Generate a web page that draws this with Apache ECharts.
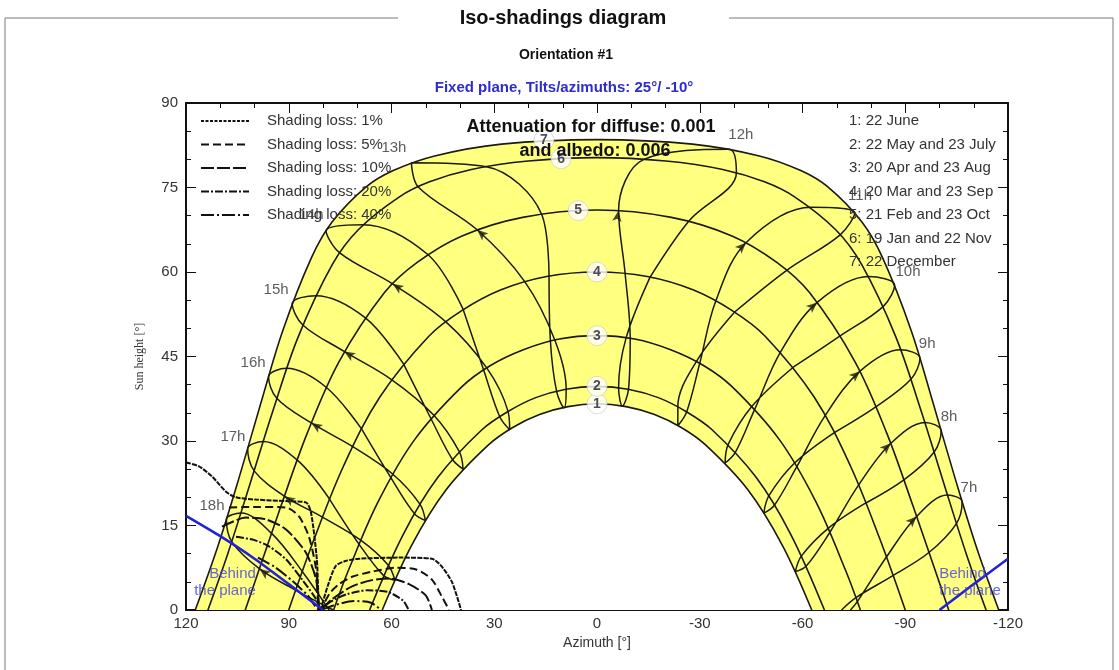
<!DOCTYPE html>
<html>
<head>
<meta charset="utf-8">
<script src="https://cdn.jsdelivr.net/npm/echarts@6/dist/echarts.min.js"></script>
<style>
  html, body { margin: 0; padding: 0; background: #ffffff; }
  #chart { width: 1119px; height: 670px; }
</style>
</head>
<body>
<div id="chart"></div>
<script>
// Axis ticks
const azimuthTicks = [120, 90, 60, 30, 0, -30, -60, -90, -120];
const heightTicks = [0, 15, 30, 45, 60, 75, 90];

// Sun paths for the seven reference dates: [azimuth, sun height]
const day1 = [[62.7,0],[54.2,11.4],[44.1,21.3],[31.7,29.3],[24.6,32.4],[16.8,34.7],[8.5,36.1],[0,36.6],[-8.5,36.1],[-16.8,34.7],[-24.6,32.4],[-31.7,29.3],[-44.1,21.3],[-54.2,11.4],[-62.7,0]];
const day2 = [[66.4,0],[56.6,13.4],[46.4,23.6],[33.6,32.0],[26.1,35.2],[17.9,37.7],[9.1,39.2],[0,39.7],[-9.1,39.2],[-17.9,37.7],[-26.1,35.2],[-33.6,32.0],[-46.4,23.6],[-56.6,13.4],[-66.4,0]];
const day3 = [[76.9,0],[72.6,7.0],[64.0,19.1],[53.3,30.2],[39.5,39.6],[31.1,43.4],[21.5,46.2],[11.0,48.1],[0,48.7],[-11.0,48.1],[-21.5,46.2],[-31.1,43.4],[-39.5,39.6],[-53.3,30.2],[-64.0,19.1],[-72.6,7.0],[-76.9,0]];
const day4 = [[90,0],[82.4,12.9],[73.9,25.7],[63.4,37.8],[49.1,48.6],[39.6,53.1],[28.2,56.8],[14.7,59.2],[0,60.0],[-14.7,59.2],[-28.2,56.8],[-39.6,53.1],[-49.1,48.6],[-63.4,37.8],[-73.9,25.7],[-82.4,12.9],[-90,0]];
const day5 = [[102.7,0],[99.6,5.5],[92.3,18.4],[84.6,31.4],[75.3,44.1],[62.1,56.3],[52.5,61.7],[39.4,66.4],[21.7,69.7],[0,71.0],[-21.7,69.7],[-39.4,66.4],[-52.5,61.7],[-62.1,56.3],[-75.3,44.1],[-84.6,31.4],[-92.3,18.4],[-99.6,5.5],[-102.7,0]];
const day6 = [[113.6,0],[107.8,10.0],[101.2,22.6],[94.6,35.4],[87.3,48.4],[77.3,61.3],[69.7,67.5],[57.8,73.3],[48.9,76.0],[36.7,78.2],[20.1,79.7],[0,80.3],[-20.1,79.7],[-36.7,78.2],[-48.9,76.0],[-57.8,73.3],[-69.7,67.5],[-77.3,61.3],[-87.3,48.4],[-94.6,35.4],[-101.2,22.6],[-107.8,10.0],[-113.6,0]];
const day7 = [[117.3,0],[110.6,11.5],[104.3,23.9],[98.2,36.6],[91.8,49.5],[83.4,62.5],[77.3,68.9],[67.4,75.1],[59.5,78.0],[47.4,80.6],[27.9,82.7],[0,83.5],[-27.9,82.7],[-47.4,80.6],[-59.5,78.0],[-67.4,75.1],[-77.3,68.9],[-83.4,62.5],[-91.8,49.5],[-98.2,36.6],[-104.3,23.9],[-110.6,11.5],[-117.3,0]];
const dayNumbers = ['1', '2', '3', '4', '5', '6', '7'];
const dayNumberPos = [[0,36.6],[0,39.7],[0,48.7],[0,60.0],[5.5,70.9],[10.5,80.1],[15.5,83.4]];
const dateList = ['1: 22 June', '2: 22 May and 23 July', '3: 20 Apr and 23 Aug', '4: 20 Mar and 23 Sep',
                  '5: 21 Feb and 23 Oct', '6: 19 Jan and 22 Nov', '7: 22 December'];

// Hour lines (legal time) through the year: [azimuth, sun height]
const hour7  = [[-74.0,0],[-76.0,1.5],[-84.5,9.4],[-93.3,16.6],[-102.3,20.4],[-106.6,19.2],[-104.9,15.3],[-96.9,10.2],[-86.4,6.1],[-75.6,2.2],[-71.4,0]];
const hour8  = [[-78.5,19.0],[-67.5,14.5],[-59.7,9.6],[-57.9,6.8],[-61.1,7.8],[-68.0,13.8],[-76.4,22.2],[-85.8,29.6],[-95.8,33.3],[-100.5,31.8],[-98.4,28.0],[-89.6,23.1],[-78.5,19.0]];
const hour9  = [[-69.3,31.5],[-57.7,26.1],[-50.2,20.3],[-48.7,17.2],[-51.8,18.6],[-58.3,25.4],[-66.6,34.5],[-76.8,42.4],[-88.6,46.2],[-94.3,44.7],[-91.7,41.0],[-81.5,36.1],[-69.3,31.5]];
const hour10 = [[-57.3,43.1],[-45.3,36.2],[-38.3,29.4],[-37.4,26.1],[-40.4,28.0],[-46.1,35.7],[-53.6,45.8],[-64.3,54.6],[-79.3,59.2],[-86.9,57.7],[-83.6,53.9],[-71.1,48.7],[-57.3,43.1]];
const hour11 = [[-40.2,52.9],[-29.0,44.1],[-23.6,36.1],[-23.6,32.7],[-26.2,35.2],[-30.0,43.8],[-34.7,54.9],[-43.5,65.2],[-62.5,71.5],[-75.3,70.5],[-71.0,66.6],[-55.4,60.3],[-40.2,52.9]];
const hour12 = [[-15.5,59.1],[-8.5,48.3],[-6.3,39.4],[-7.4,36.2],[-9.2,39.2],[-9.7,48.2],[-8.2,59.8],[-6.3,70.9],[-13.7,80.0],[-38.6,81.8],[-40.7,77.6],[-26.9,69.1],[-15.5,59.1]];
const hour13 = [[14.0,59.2],[13.6,47.7],[11.8,38.8],[9.6,35.9],[9.0,39.2],[12.3,47.9],[21.1,58.3],[35.0,67.5],[52.2,75.1],[54.2,79.4],[32.3,78.7],[16.2,70.3],[14.0,59.2]];
const hour14 = [[39.1,53.4],[33.1,42.6],[28.4,34.3],[25.5,32.0],[26.0,35.3],[32.1,42.9],[44.2,51.2],[59.7,57.9],[75.1,63.4],[79.1,67.3],[68.3,68.4],[49.4,63.1],[39.1,53.4]];
const hour15 = [[56.5,43.7],[48.5,34.0],[42.3,26.8],[39.1,25.0],[40.2,28.1],[47.7,34.6],[60.0,40.9],[73.8,45.9],[85.9,50.6],[89.0,54.4],[82.1,55.8],[67.7,51.9],[56.5,43.7]];
const hour16 = [[68.7,32.1],[60.2,23.5],[53.3,17.1],[50.1,15.9],[51.7,18.8],[59.6,24.1],[71.3,29.0],[83.4,33.2],[93.5,37.6],[95.9,41.4],[90.6,42.9],[79.0,39.5],[68.7,32.1]];
const hour17 = [[78.1,19.7],[69.5,11.7],[62.3,6.1],[59.0,5.3],[61.0,8.0],[69.0,12.4],[80.2,16.5],[91.3,20.2],[100.1,24.7],[102.0,28.6],[97.5,29.9],[87.5,26.6],[78.1,19.7]];
const hour18 = [[77.0,0],[87.9,3.5],[98.5,7.3],[106.6,12.1],[108.2,16.1],[103.9,17.2],[95.0,13.6],[86.0,6.8],[78.2,0]];
const hourNames = ['7h','8h','9h','10h','11h','12h','13h','14h','15h','16h','17h','18h'];
// index of the point (23 Oct) where the direction arrow sits on each hour line
const hourArrowAt = [3, 7, 7, 7, 7, 7, 7, 7, 7, 7, 7, 2];
const hourLabelPos = [[-108.6,21.7],[-102.8,34.3],[-96.4,47.3],[-90.8,60.1],[-76.8,73.5],[-42.0,84.3],
                      [59.3,82.0],[83.5,70.1],[93.7,56.9],[100.4,43.9],[106.3,30.8],[112.4,18.4]];

// Iso-shading curves
const lossNames = ['Shading loss: 1%', 'Shading loss: 5%', 'Shading loss: 10%', 'Shading loss: 20%', 'Shading loss: 40%'];
const loss1 = [[120,26.2],[116.2,25.5],[112.4,23.7],[108.3,21.0],[105.4,20.0],[99.6,19.6],[89.9,19.3],[85.0,19.1],[83.5,17.3],[81.8,9.0],[80.9,0],[78.6,4.3],[76.3,7.8],[73.4,8.7],[69.5,9.1],[57.8,9.3],[48.2,9.1],[45.3,7.7],[42.3,4.9],[39.7,0]];
const loss5 = [[107.4,18.2],[99.0,18.3],[90.8,18.2],[87.0,16.6],[84.1,13.0],[82.0,7.2],[80.9,0],[78.0,3.0],[75.3,4.6],[71.5,5.9],[65.7,6.8],[58.7,7.5],[52.8,7.2],[48.2,5.4],[45.3,2.4],[43.2,0]];
const loss10 = [[109.5,14.8],[102.5,16.4],[96.7,16.1],[90.8,14.3],[85.0,10.2],[82.0,5.4],[80.9,0],[77.4,1.9],[71.5,4.2],[65.7,5.3],[60.7,5.6],[54.9,4.6],[50.0,2.6],[48.2,0]];
const loss20 = [[105.4,13.0],[100.0,12.4],[95.8,11.3],[90.8,9.0],[86.1,5.4],[82.0,1.9],[80.9,0],[78.0,1.4],[73.0,2.8],[67.0,3.5],[61.0,3.2],[56.5,1.6],[55.0,0]];
const loss40 = [[99.0,9.3],[94.0,7.6],[89.0,5.2],[84.5,2.6],[80.9,0],[77.0,0.8],[71.0,1.6],[66.0,1.3],[63.0,0]];

// Horizon of the tilted plane
const behindLeft = [[120,16.7],[110,13.1],[100,9.1],[90,4.6],[80,0]];
const behindRight = [[-100,0],[-110,4.6],[-120,9.1]];
const behindText = 'Behind\nthe plane';
const behindTextPos = [[99.6,4.9],[-99.9,4.9]];

// ---------------------------------------------------------------------------
const FONT = '"Liberation Sans", Arial, Helvetica, sans-serif';
const INK = '#1a1a12';
const BLUE = '#2222d8';
const dashes = [[5, 1.2], [8, 4], [13, 3], [8, 2, 2, 2], [13, 3, 2, 3]];
const legendDashes = [[3, 1.5], [8, 4], [13, 3], [8, 2, 2, 2], [13, 3, 2, 3]];
const lossData = [loss1, loss5, loss10, loss20, loss40];
const dayCurves = [day1, day2, day3, day4, day5, day6, day7];
const hourLines = [hour7, hour8, hour9, hour10, hour11, hour12, hour13, hour14, hour15, hour16, hour17, hour18];

const chart = echarts.init(document.getElementById('chart'));

function xAxisDef(pos, showLabel) {
  return {
    type: 'value', position: pos, inverse: true,
    min: Math.min(...azimuthTicks), max: Math.max(...azimuthTicks),
    interval: azimuthTicks[0] - azimuthTicks[1],
    name: showLabel ? 'Azimuth [°]' : '', nameLocation: 'middle', nameGap: 26,
    nameTextStyle: { fontFamily: FONT, fontSize: 14, color: '#333' },
    axisLine: { show: true, onZero: false, lineStyle: { color: '#111', width: 2 } },
    axisTick: { show: true, inside: true, length: 10, lineStyle: { color: '#111', width: 1 } },
    minorTick: { show: true, splitNumber: 3, length: 5, lineStyle: { color: '#111', width: 1 } },
    axisLabel: { show: showLabel, fontFamily: FONT, fontSize: 15, color: '#333', margin: 6 },
    splitLine: { show: false }
  };
}
function yAxisDef(pos, showLabel) {
  return {
    type: 'value', position: pos,
    min: Math.min(...heightTicks), max: Math.max(...heightTicks),
    interval: heightTicks[1] - heightTicks[0],
    name: showLabel ? 'Sun height [°]' : '', nameLocation: 'middle', nameGap: 40,
    nameTextStyle: { fontFamily: '"Liberation Serif", "Times New Roman", serif', fontSize: 12, color: '#333' },
    axisLine: { show: true, onZero: false, lineStyle: { color: '#111', width: 2 } },
    axisTick: { show: true, inside: true, length: 10, lineStyle: { color: '#111', width: 1 } },
    minorTick: { show: true, splitNumber: 3, length: 5, lineStyle: { color: '#111', width: 1 } },
    axisLabel: { show: showLabel, fontFamily: FONT, fontSize: 15, color: '#333', margin: 8 },
    splitLine: { show: false }
  };
}

const series = [];
// yellow band between the December and June paths
series.push({ type: 'line', data: day7, smooth: 0.35, symbol: 'none', silent: true, z: 1,
  lineStyle: { width: 0 }, areaStyle: { color: '#ffff80', opacity: 1 } });
series.push({ type: 'line', data: day1, smooth: 0.35, symbol: 'none', silent: true, z: 2,
  lineStyle: { width: 0 }, areaStyle: { color: '#ffffff', opacity: 1 } });
dayCurves.forEach(d => series.push({ type: 'line', data: d, smooth: 0.35, symbol: 'none', silent: true, z: 3,
  lineStyle: { color: INK, width: 1.6 } }));
hourLines.forEach(d => series.push({ type: 'line', data: d, smooth: 0.35, symbol: 'none', silent: true, z: 3,
  lineStyle: { color: INK, width: 1.5 } }));
lossData.forEach((d, i) => series.push({ type: 'line', name: lossNames[i], data: d, smooth: 0.25, symbol: 'none',
  silent: true, z: 4, lineStyle: { color: '#111', width: 2, type: dashes[i] } }));
[behindLeft, behindRight].forEach(d => series.push({ type: 'line', data: d, smooth: 0.2, symbol: 'none', silent: true,
  z: 5, lineStyle: { color: BLUE, width: 2.6 } }));
// hour direction arrows, oriented once the scales exist
series.push({ id: 'arrows', type: 'scatter', data: [], symbol: 'arrow', symbolSize: [7, 11], silent: true, z: 6,
  itemStyle: { color: INK } });
// hour names
series.push({ type: 'scatter', silent: true, z: 7, symbolSize: 1, itemStyle: { color: 'rgba(0,0,0,0)' },
  data: hourNames.map((n, i) => ({ name: n, value: hourLabelPos[i] })),
  label: { show: true, position: 'inside', formatter: '{b}', fontFamily: FONT, fontSize: 15, color: '#333' } });
// date numbers on the sun paths
series.push({ type: 'scatter', silent: true, z: 8, symbol: 'circle', symbolSize: 20,
  itemStyle: { color: '#ffffff', borderColor: '#c8c8c8', borderWidth: 0.8 },
  data: dayNumbers.map((n, i) => ({ name: n, value: dayNumberPos[i] })),
  label: { show: true, position: 'inside', formatter: '{b}', fontFamily: FONT, fontSize: 14, fontWeight: 'bold', color: '#1d1d3a' } });
// "behind the plane" notes
series.push({ type: 'scatter', silent: true, z: 8, symbolSize: 1, itemStyle: { color: 'rgba(0,0,0,0)' },
  data: [
    { value: behindTextPos[0], label: { align: 'right' } },
    { value: behindTextPos[1], label: { align: 'left' } }
  ],
  label: { show: true, position: 'inside', formatter: behindText, fontFamily: FONT, fontSize: 15, lineHeight: 17,
    color: '#4040e0' } });

const graphic = [];
// frame around the diagram with the title in its top edge
graphic.push({ type: 'polyline', z: 50, shape: { points: [[398, 18], [5, 18], [5, 670]] },
  style: { stroke: '#7a7a7a', lineWidth: 1, fill: null } });
graphic.push({ type: 'polyline', z: 50, shape: { points: [[729, 18], [1113, 18], [1113, 670]] },
  style: { stroke: '#7a7a7a', lineWidth: 1, fill: null } });
graphic.push({ type: 'text', z: 60, x: 563, y: 18, style: { text: 'Iso-shadings diagram',
  font: 'bold 20px ' + FONT, fill: '#111', align: 'center', verticalAlign: 'middle' } });
graphic.push({ type: 'text', z: 60, x: 566, y: 55, style: { text: 'Orientation #1',
  font: 'bold 14px ' + FONT, fill: '#111', align: 'center', verticalAlign: 'middle' } });
graphic.push({ type: 'text', z: 60, x: 564, y: 88, style: { text: 'Fixed plane, Tilts/azimuths: 25°/ -10°',
  font: 'bold 15px ' + FONT, fill: '#2c2cd0', align: 'center', verticalAlign: 'middle' } });
graphic.push({ type: 'text', z: 60, x: 591, y: 127, style: { text: 'Attenuation for diffuse: 0.001',
  font: 'bold 18px ' + FONT, fill: '#111', align: 'center', verticalAlign: 'middle' } });
graphic.push({ type: 'text', z: 60, x: 595, y: 151, style: { text: 'and albedo: 0.006',
  font: 'bold 18px ' + FONT, fill: '#111', align: 'center', verticalAlign: 'middle' } });
// shading loss key
lossNames.forEach((n, i) => {
  const y = 121 + i * 23.5;
  graphic.push({ type: 'line', z: 60, shape: { x1: 201, y1: y, x2: 249, y2: y },
    style: { stroke: '#111', lineWidth: 2, lineDash: legendDashes[i] } });
  graphic.push({ type: 'text', z: 60, x: 267, y: y, style: { text: n, font: '15px ' + FONT, fill: '#333',
    align: 'left', verticalAlign: 'middle' } });
});
// date key
dateList.forEach((t, i) => {
  graphic.push({ type: 'text', z: 60, x: 849, y: 121 + i * 23.5, style: { text: t, font: '15px ' + FONT,
    fill: '#333', align: 'left', verticalAlign: 'middle' } });
});

chart.setOption({
  animation: false,
  backgroundColor: '#ffffff',
  grid: { left: 186, top: 103, right: 111, bottom: 60, containLabel: false, outerBoundsMode: 'none' },
  xAxis: [xAxisDef('bottom', true), xAxisDef('top', false)],
  yAxis: [yAxisDef('left', true), yAxisDef('right', false)],
  series: series,
  graphic: graphic
});

// orient each arrow along its hour line (direction of passing time)
const arrowData = hourLines.map((d, i) => {
  const k = hourArrowAt[i];
  const a = chart.convertToPixel({ gridIndex: 0 }, d[k - 1]);
  const b = chart.convertToPixel({ gridIndex: 0 }, d[k + 1]);
  const ang = Math.atan2(-(b[1] - a[1]), b[0] - a[0]) * 180 / Math.PI - 90;
  return { value: d[k], symbolRotate: ang };
});
chart.setOption({ series: [{ id: 'arrows', data: arrowData }] });
</script>
</body>
</html>
